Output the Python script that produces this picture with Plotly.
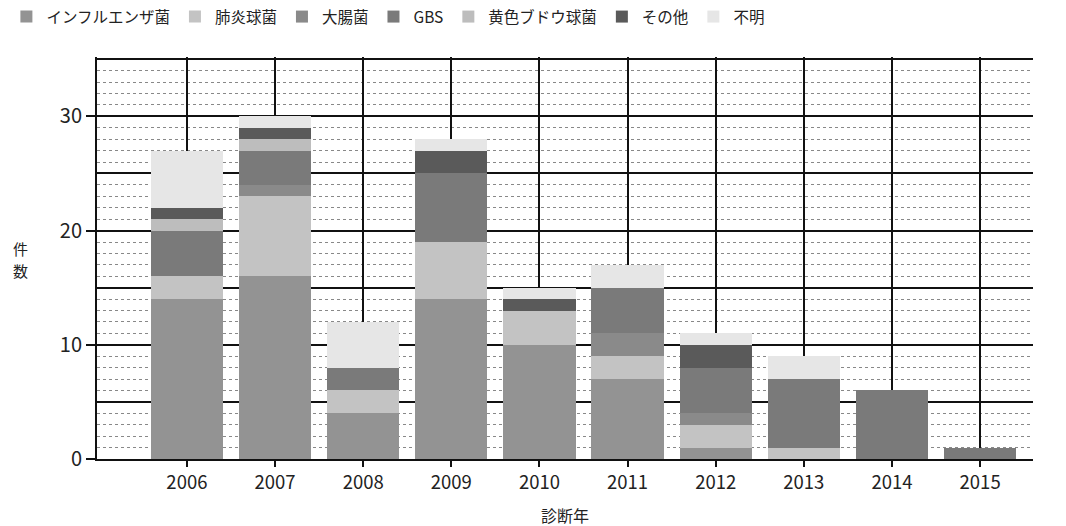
import plotly.graph_objects as go

# Diagnosis year categories
years = ["2006", "2007", "2008", "2009", "2010", "2011", "2012", "2013", "2014", "2015"]

# Case counts by causative organism (stacked bottom to top)
influenza = [14, 16, 4, 14, 10, 7, 1, 0, 0, 0]
pneumococcus = [2, 7, 2, 5, 3, 2, 2, 1, 0, 0]
ecoli = [0, 1, 0, 0, 0, 2, 1, 0, 0, 0]
gbs = [4, 3, 2, 6, 0, 4, 4, 6, 6, 1]
staph = [1, 1, 0, 0, 0, 0, 0, 0, 0, 0]
other = [1, 1, 0, 2, 1, 0, 2, 0, 0, 0]
unknown = [5, 1, 4, 1, 1, 2, 1, 2, 0, 0]

# y-axis labelling: bold grid every 5, labels every 10
grid_vals = [0, 5, 10, 15, 20, 25, 30, 35]
label_vals = [0, 10, 20, 30]

series = [
    ("インフルエンザ菌", influenza, "#939393"),
    ("肺炎球菌", pneumococcus, "#c3c3c3"),
    ("大腸菌", ecoli, "#8a8a8a"),
    ("GBS", gbs, "#7a7a7a"),
    ("黄色ブドウ球菌", staph, "#bdbdbd"),
    ("その他", other, "#5a5a5a"),
    ("不明", unknown, "#e6e6e6"),
]

FONT = "Noto Sans CJK JP, Noto Sans, sans-serif"
Y_MAX = 35.2

fig = go.Figure()
for name, vals, color in series:
    fig.add_trace(go.Bar(
        x=years, y=vals, name=name,
        marker=dict(color=color, line=dict(width=0)),
    ))

# empty trace so the overlaid tick axis is drawn
fig.add_trace(go.Scatter(x=[], y=[], yaxis="y2", showlegend=False,
                         hoverinfo="skip"))

fig.update_layout(
    width=1066, height=526,
    barmode="stack",
    bargap=0.18,
    plot_bgcolor="white",
    paper_bgcolor="white",
    margin=dict(l=97, r=33, t=57, b=67),
    font=dict(family=FONT, size=17, color="#222"),
    showlegend=True,
    legend=dict(
        orientation="h",
        x=0.006, xref="container", xanchor="left",
        y=1.0, yref="container", yanchor="top",
        font=dict(size=15.5, color="#222"),
        itemwidth=30,
        traceorder="normal",
    ),
    xaxis=dict(
        type="category",
        range=[-1.02, 9.6],
        showgrid=True, gridcolor="#111", gridwidth=2,
        showline=True, linecolor="#111", linewidth=1.5,
        ticks="outside", ticklen=6, tickcolor="#111", tickwidth=1.5,
        tickfont=dict(size=18.5),
        zeroline=False,
    ),
    yaxis=dict(
        range=[0, Y_MAX],
        tickvals=grid_vals,
        showticklabels=False, ticks="",
        showgrid=True, gridcolor="#111", gridwidth=2,
        showline=True, linecolor="#111", linewidth=1.5,
        zeroline=False,
        minor=dict(dtick=1, showgrid=True, griddash="dot",
                   gridcolor="#888", gridwidth=1, ticks=""),
    ),
    yaxis2=dict(
        overlaying="y", side="left", anchor="x",
        range=[0, Y_MAX],
        tickvals=label_vals,
        showgrid=False,
        ticks="outside", ticklen=10, tickcolor="#111", tickwidth=1.5,
        tickfont=dict(size=20),
        showline=False, zeroline=False,
    ),
    annotations=[
        dict(text="件", x=(20 - 97) / 936, xref="paper",
             y=(459 - 248) / 402, yref="paper",
             showarrow=False, font=dict(size=15, color="#222"),
             xanchor="center", yanchor="middle"),
        dict(text="数", x=(20 - 97) / 936, xref="paper",
             y=(459 - 270) / 402, yref="paper",
             showarrow=False, font=dict(size=15, color="#222"),
             xanchor="center", yanchor="middle"),
        dict(text="診断年", x=0.5, xref="paper", y=-0.14, yref="paper",
             showarrow=False, font=dict(size=16, color="#222"),
             xanchor="center", yanchor="middle"),
    ],
)

fig.write_html("out.html")
